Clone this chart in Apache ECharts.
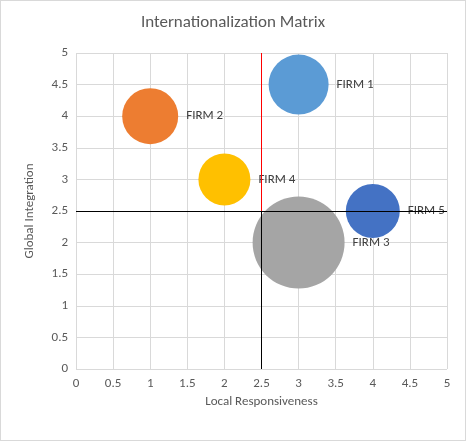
<!DOCTYPE html>
<html><head><meta charset="utf-8">
<script src="https://cdn.jsdelivr.net/npm/echarts@6/dist/echarts.min.js"></script>
<style>html,body{margin:0;padding:0;background:#fff}#c{width:466px;height:441px;box-sizing:border-box;border:1px solid #d9d9d9}</style>
</head><body><div id="c"></div>
<script>
const firms = ['FIRM 1','FIRM 2','FIRM 4','FIRM 5','FIRM 3'];
const xVals = [3,1,2,4,3];
const yVals = [4.5,4,3,2.5,2];
const sizes = [60,56,52,54,92];
const colors = ['#5B9BD5','#ED7D31','#FFC000','#4472C4','#A5A5A5'];
const tickStep = 0.5;
const chart = echarts.init(document.getElementById('c'));
const txt = {fontFamily:'Calibri, Carlito, "Liberation Sans", sans-serif', color:'#595959'};
const series = firms.map((f,i)=>({
  type:'scatter', name:f, data:[[xVals[i],yVals[i]]], symbolSize:sizes[i],
  itemStyle:{color:colors[i],opacity:1}, z:3,
  label:{show:true,position:'right',distance:8,formatter:f,fontSize:13,...txt,color:'#404040'}
}));
series.push({type:'line',data:[],markLine:{silent:true,symbol:'none',label:{show:false},
  data:[
    [{coord:[2.5,0],lineStyle:{color:'#000',width:1,type:'solid'}},{coord:[2.5,5]}],
    [{coord:[2.5,2.5],lineStyle:{color:'#ff0000',width:1,type:'solid'}},{coord:[2.5,5]}],
    [{coord:[0,2.5],lineStyle:{color:'#000',width:1,type:'solid'}},{coord:[5,2.5]}]
  ]},z:5});
chart.setOption({
  animation:false,
  title:{text:'Internationalization Matrix',left:'center',top:8,textStyle:{...txt,fontSize:17,fontWeight:'normal'}},
  grid:{left:75,right:18,top:52,bottom:71},
  xAxis:{type:'value',min:0,max:5,interval:tickStep,name:'Local Responsiveness',nameLocation:'middle',nameGap:26,
    nameTextStyle:{...txt,fontSize:13},axisLabel:{...txt,fontSize:13},
    axisLine:{show:false},axisTick:{show:false},splitLine:{lineStyle:{color:'#d9d9d9'}}},
  yAxis:{type:'value',min:0,max:5,interval:tickStep,name:'Global Integration',nameLocation:'middle',nameGap:40,
    nameTextStyle:{...txt,fontSize:13},axisLabel:{...txt,fontSize:13},
    axisLine:{show:false},axisTick:{show:false},splitLine:{lineStyle:{color:'#d9d9d9'}}},
  series
});
</script></body></html>
